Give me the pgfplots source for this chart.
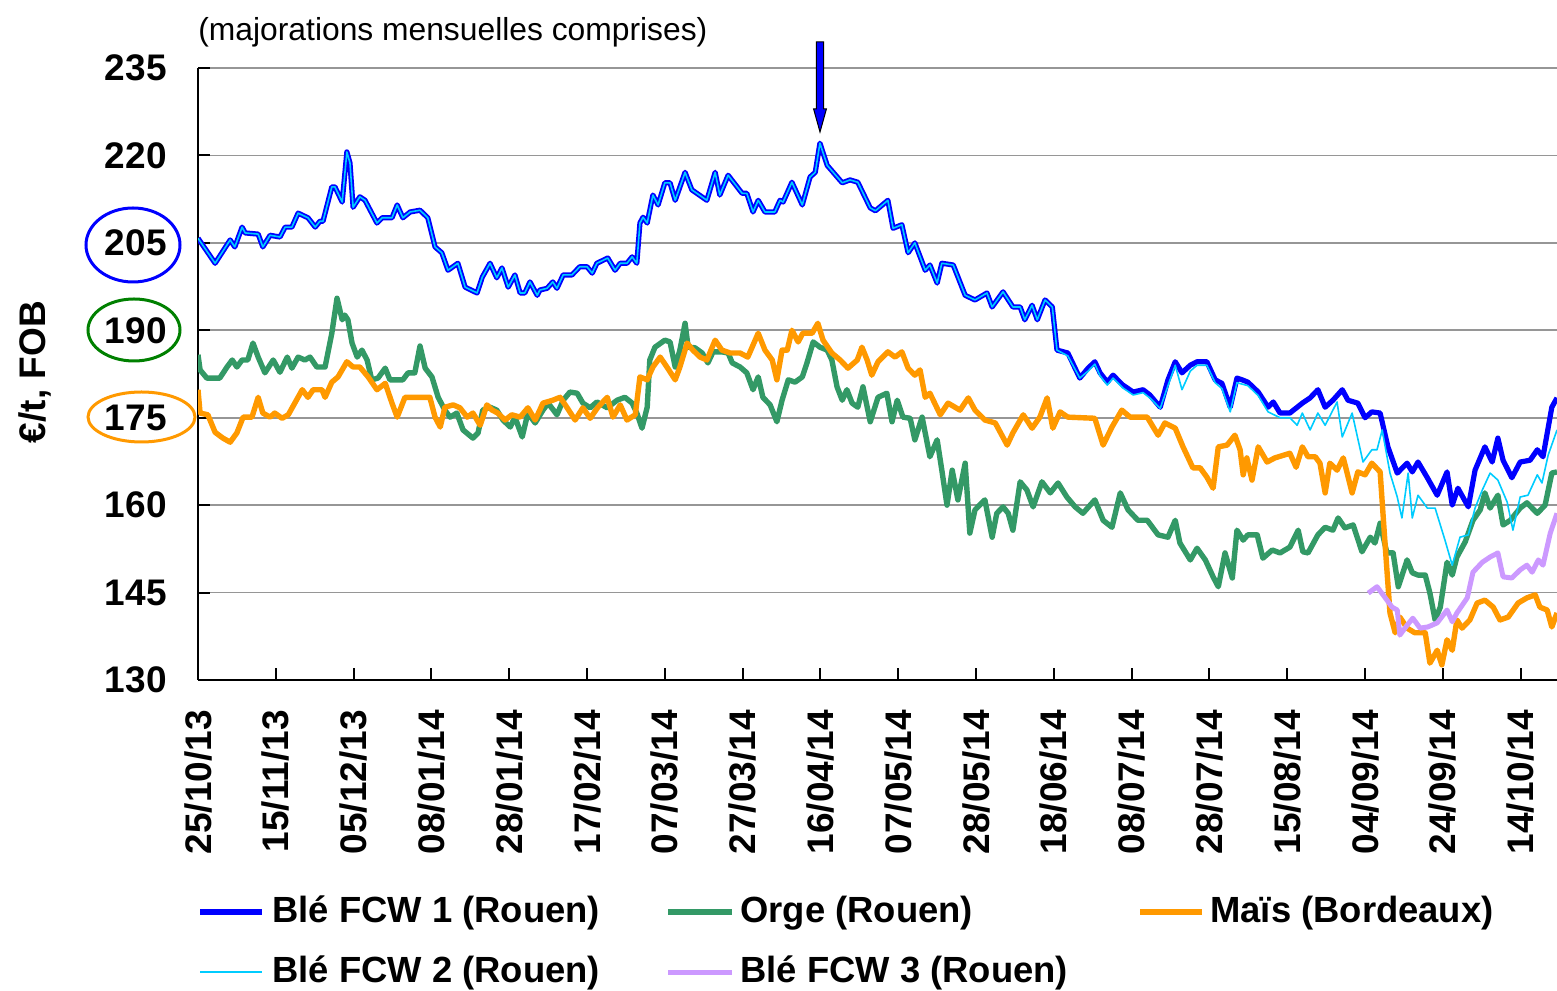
\documentclass[border=0pt]{standalone}
\usepackage{pgfplots}
\pgfplotsset{compat=1.18}
\usepackage{fontspec}
\setmainfont{Liberation Sans}
\definecolor{bleA}{RGB}{0,0,255}
\definecolor{bleB}{RGB}{0,204,255}
\definecolor{orge}{RGB}{51,153,102}
\definecolor{mais}{RGB}{255,153,0}
\definecolor{bleC}{RGB}{204,153,255}
\definecolor{grd}{RGB}{150,150,150}
\definecolor{ellg}{RGB}{0,128,0}
\newcommand{\bigbf}{\bfseries\fontsize{18.5pt}{22pt}\selectfont}
\newcommand{\legbf}{\bfseries\fontsize{18.2pt}{22pt}\selectfont}
\begin{document}
\begin{tikzpicture}
\path[use as bounding box] (0pt,0pt) rectangle (778.5pt,495pt);
\begin{axis}[
  at={(99pt,155pt)}, anchor=south west,
  scale only axis, width=679.5pt, height=306pt,
  xmin=0, xmax=262, ymin=130, ymax=235,
  axis x line*=bottom, axis y line*=left,
  axis line style={black, line width=1pt},
  xtick={0,15,...,255},
  xticklabels={25/10/13,15/11/13,05/12/13,08/01/14,28/01/14,17/02/14,07/03/14,27/03/14,16/04/14,07/05/14,28/05/14,18/06/14,08/07/14,28/07/14,15/08/14,04/09/14,24/09/14,14/10/14},
  ytick={130,145,...,235},
  tick align=inside, major tick length=6pt,
  tick style={black, line width=1pt},
  ymajorgrids, major grid style={grd, line width=0.9pt},
  /pgf/number format/assume math mode=true,
  yticklabel style={font=\bigbf, inner sep=0pt, xshift=-15.5pt},
  xticklabel style={font=\bigbf, inner sep=0pt, yshift=-15pt, rotate=90, anchor=east},
  ylabel={\bigbf €/t, FOB},
  ylabel style={at={(rel axis cs:-0.12,0.503)}, anchor=center},
]
% Ble FCW 1
\addplot[bleA, line width=2.6pt, line join=round] coordinates {
(0,205.8)(3.3,201.5)(6.2,205.5)(7.1,204.3)(8.5,207.7)(9.1,206.7)(11.6,206.5)(12.5,204.3)(13.9,206.3)(15.8,206)(16.8,207.7)(18.1,207.7)(19.3,210.1)(21.2,209.3)(22.6,207.7)(23.5,208.7)(24.1,208.7)(25.8,214.6)(26.4,214.6)(27.8,212)(28.7,220.6)(29.3,218.7)(29.9,211.1)(31.2,212.9)(32.2,212.3)(34.5,208.4)(35.5,209.3)(37.4,209.3)(38.4,211.5)(39.5,209.3)(40.9,210.3)(42.8,210.6)(44.3,209.3)(45.7,204.3)(47.0,203.3)(48.2,200.3)(50.1,201.5)(51.5,197.4)(53.8,196.4)(54.8,199.1)(56.3,201.5)(57.6,199)(58.6,200.7)(59.8,197.4)(61.1,199.5)(62.1,196.4)(63.0,196.4)(64.0,198.3)(65.4,196)(65.9,196.9)(67.3,197.2)(68.4,198.3)(69.2,197.2)(70.4,199.5)(72.1,199.5)(73.6,200.9)(75.0,200.9)(76.0,199.8)(76.9,201.5)(79.0,202.4)(80.4,200.3)(81.4,201.5)(82.7,201.5)(83.7,202.6)(84.6,201.5)(85.2,208.4)(85.8,209.4)(86.6,208.4)(87.7,213.2)(88.7,211.5)(90.0,215.3)(91.0,215.3)(92.0,212.3)(93.9,217.1)(95.2,214.1)(98.1,212.3)(99.7,217.1)(100.6,213.2)(102.2,216.6)(104.9,213.5)(105.8,213.5)(107.0,210.3)(108.0,212.3)(109.3,210.3)(111.2,210.3)(112.2,212.3)(112.8,212)(114.5,215.4)(116.5,211.5)(118.0,216.3)(119.0,217.1)(119.9,222.1)(121.3,218.3)(124.2,215.3)(125.7,215.8)(127.2,215.4)(129.6,211)(130.6,210.5)(133.0,212.3)(134.0,207.5)(135.7,208.1)(136.9,203.3)(138.2,205)(140.2,200.3)(141.1,201.2)(142.5,198.1)(143.4,201.5)(145.6,201.2)(147.9,196)(149.8,195.2)(152.1,196.4)(153.1,194)(155.2,196.6)(157.1,194)(158.5,194)(159.4,191.8)(160.8,194.3)(161.8,191.8)(163.3,195.2)(164.7,194)(165.6,186.6)(167.7,186.1)(170.0,181.8)(171.6,183.5)(172.9,184.6)(173.9,182.7)(175.3,181.1)(176.4,182.3)(178.3,180.6)(180.3,179.4)(182.2,179.8)(183.5,178.9)(185.5,176.8)(187.0,181.5)(188.4,184.6)(189.7,182.7)(191.3,184)(192.6,184.6)(194.5,184.6)(196.1,181.5)(197.4,180.9)(199.0,176.8)(200.3,181.8)(201.3,181.5)(202.4,181.1)(204.4,179.4)(206.3,176.8)(207.3,177.7)(208.6,175.8)(210.5,175.8)(212.9,177.5)(214.4,178.4)(215.9,179.8)(217.3,176.8)(218.8,178)(220.6,179.8)(221.7,178)(223.6,177.5)(225.0,175)(226.3,176)(227.9,175.8)(229.4,170)(231.2,165.5)(233.1,167.2)(234.1,165.7)(235.2,167.4)(237.0,164.7)(238.9,161.7)(240.8,165.7)(241.8,160)(242.9,162.9)(244.9,159.7)(246.2,166)(248.1,170)(249.5,167.4)(250.6,171.5)(251.6,167.7)(253.3,164.7)(254.9,167.4)(256.8,167.7)(258.2,169.5)(259.3,168.3)(261.0,176.8)(262.0,178.4)
};
% Orge
\addplot[orge, line width=2.7pt, line join=round] coordinates {
(0,185.8)(0.4,183.2)(1.7,181.8)(4.2,181.8)(5.6,183.7)(6.6,184.9)(7.5,183.7)(8.5,184.9)(9.6,184.9)(10.6,187.8)(11.6,185.4)(12.9,182.7)(14.5,184.9)(15.8,182.8)(17.2,185.4)(18.1,183.5)(19.3,185.4)(20.6,184.9)(21.6,185.4)(22.9,183.7)(24.5,183.7)(25.8,189.5)(26.8,195.5)(27.8,191.8)(28.3,192.6)(28.9,191.8)(29.7,187.8)(30.7,185.4)(31.6,186.6)(32.6,184.9)(33.5,181.5)(34.7,181.8)(36.1,183.5)(37.0,181.5)(39.5,181.5)(40.5,182.7)(41.8,182.7)(42.8,187.3)(43.8,183.5)(45.1,182)(46.3,178.5)(47.6,176.3)(48.6,175.1)(49.9,175.8)(51.1,172.9)(53.0,171.5)(54.0,172.4)(54.9,176.3)(56.3,176.8)(57.6,176.3)(58.8,174.6)(60.2,173.4)(61.1,175.1)(62.5,171.7)(63.6,175.8)(65.0,174.1)(66.5,176.3)(67.5,177.5)(69.2,175.5)(70.4,178)(71.7,179.4)(73.1,179.2)(74.2,177.5)(75.6,176.7)(76.9,177.7)(78.9,176.7)(80.8,178)(82.3,178.5)(83.7,177.5)(84.6,175.8)(85.6,173.2)(86.6,176.8)(87.1,184.9)(88.1,187.1)(90.0,188.3)(91.0,188)(92.0,183.7)(92.9,186.6)(93.9,191.2)(94.5,187.1)(95.8,187)(97.2,186.1)(98.3,184.4)(99.3,186.3)(101.0,186.3)(102.2,186.1)(103.0,184.4)(104.5,183.7)(105.8,182.7)(107.0,179.8)(108.0,182)(108.9,178.5)(110.3,177.2)(111.6,174.3)(112.6,178)(113.8,181.5)(115.1,181.1)(116.5,182)(117.4,184.4)(118.6,188)(119.9,187.1)(121.3,186.6)(122.2,184.9)(123.2,180.3)(124.2,178)(125.1,179.8)(126.1,177.5)(127.2,176.8)(128.2,180.3)(129.6,174.3)(131.1,178.5)(132.8,179.2)(133.8,174.3)(134.8,178)(135.9,175.1)(137.3,174.9)(138.2,171.2)(139.6,175.1)(141.1,168.3)(142.5,171.2)(143.4,166)(144.4,160)(145.4,166)(146.5,160.9)(147.9,167.2)(148.8,155.2)(149.8,159.2)(151.7,160.9)(153.1,154.5)(154.0,158.6)(155.2,159.7)(156.2,158.6)(157.1,155.7)(158.5,164)(159.8,162.6)(161.0,159.7)(162.7,164)(164.3,162.1)(165.8,163.8)(167.5,161.4)(169.1,159.7)(170.6,158.6)(172.9,160.9)(174.5,157.4)(176.2,156.2)(177.8,162.1)(179.3,159.2)(181.2,157.4)(183.0,157.4)(185.1,154.9)(187.0,154.5)(188.4,157.4)(189.3,153.5)(191.3,150.6)(192.6,152.6)(194.2,150.6)(195.7,147.7)(196.7,146)(198.0,151.8)(199.4,147.5)(200.3,155.7)(201.5,154)(202.4,154.9)(204.2,154.9)(205.3,150.9)(207.1,152.3)(208.6,151.8)(210.5,152.8)(212.1,155.7)(213.0,152)(214.0,151.8)(215.9,154.9)(217.3,156.2)(218.8,155.7)(219.8,157.8)(221.1,156.1)(222.7,156.6)(224.4,152)(226.0,154.5)(226.9,153.5)(227.9,156.9)(229.2,151.8)(230.4,151.8)(231.4,146)(233.1,150.6)(234.1,148.4)(235.2,148)(236.6,148)(237.5,144.9)(238.5,140.3)(239.5,142.5)(240.8,150.2)(241.8,148)(242.7,151.1)(244.3,153.7)(245.8,157.4)(247.2,159.2)(248.1,162.1)(249.1,159.5)(250.6,161.7)(251.6,156.6)(253.0,157.4)(254.9,159.5)(256.2,160.4)(258.2,158.6)(259.7,160)(261.0,165.5)(262.0,165.7)
};
% Mais
\addplot[mais, line width=2.7pt, line join=round] coordinates {
(0,179.8)(0.4,175.8)(1.9,175.5)(3.3,172.5)(4.8,171.5)(6.2,170.8)(7.5,172.4)(8.7,175.1)(10.4,175.1)(11.6,178.5)(12.5,175.8)(13.9,175.1)(14.8,175.8)(16.2,174.9)(17.4,175.5)(20.1,179.8)(21.2,178.5)(22.2,179.8)(23.9,179.8)(24.5,178.5)(25.8,181.1)(27.0,182)(28.7,184.6)(29.9,183.7)(31.2,183.7)(32.8,182)(34.5,179.8)(36.1,180.9)(37.4,177.5)(38.4,175.1)(39.9,178.5)(41.8,178.5)(44.7,178.5)(45.7,175.1)(46.7,173.4)(47.6,176.8)(49.2,177.2)(50.5,176.7)(51.9,175.1)(53.0,175.8)(54.4,173.7)(55.7,177.2)(56.7,176.3)(57.8,175.8)(59.2,174.6)(60.5,175.5)(62.1,175.1)(63.6,176.7)(65.0,174.6)(66.5,177.5)(68.4,178)(69.8,178.5)(71.1,176.8)(72.7,174.6)(74.2,176.7)(75.6,174.9)(77.1,176.8)(78.9,178.5)(80.0,175.1)(81.4,177.2)(82.7,174.6)(84.3,175.5)(85.2,182)(86.6,181.5)(87.7,183.7)(89.1,185.4)(90.4,183.7)(92.0,181.5)(92.9,183.7)(94.3,187.8)(95.4,186.6)(96.8,185.4)(98.1,184.9)(99.7,188.3)(101.0,186.6)(102.6,186.1)(104.5,186.1)(106.0,185.4)(108.0,189.5)(109.3,186.6)(110.7,184.9)(111.6,181.5)(112.6,186.6)(113.6,186.6)(114.5,190)(115.7,188)(116.6,189.5)(118.4,189.5)(119.5,191.2)(120.5,188.3)(122.2,186.1)(123.8,184.9)(125.3,183.5)(127.1,184.9)(128.0,187.1)(129.0,184.9)(129.9,182.3)(131.1,184.6)(133.0,186.3)(134.4,185.4)(135.7,186.3)(136.9,183.5)(138.2,182.3)(139.2,183.2)(140.2,178.5)(141.1,179.2)(143.1,175.5)(144.6,177.5)(146.9,176.3)(148.5,178.4)(149.8,176.3)(151.7,174.6)(153.7,174.1)(156.0,170.3)(157.1,172.4)(159.1,175.5)(160.8,173.2)(162.3,175.1)(163.7,178.4)(164.8,173.2)(166.2,176)(167.7,175.1)(172.9,174.9)(174.5,170.3)(176.2,173.4)(178.1,176.3)(179.7,175.1)(183.0,175.1)(185.1,172)(186.4,174.1)(188.4,173.2)(189.9,170)(191.8,166.4)(193.2,166.4)(194.5,164.8)(195.7,162.9)(196.7,170)(198.4,170.3)(199.9,172)(200.9,169.5)(201.5,165.2)(202.2,168.1)(203.2,164.3)(204.4,170)(206.1,167.4)(207.6,168.1)(210.5,168.9)(211.7,166.5)(212.9,170)(214.0,168.3)(215.4,168.3)(216.3,167.2)(217.3,162.1)(218.2,167.2)(219.6,166)(220.8,168.1)(222.5,162.1)(223.6,165.7)(225.0,165.2)(226.3,167.2)(227.9,165.7)(228.8,154)(229.8,141.5)(230.8,138.1)(231.7,140.8)(233.1,138.9)(234.6,138.1)(236.6,138.1)(237.5,132.9)(238.9,135.1)(239.8,132.6)(240.8,136.9)(241.8,135.1)(242.7,140.3)(243.7,138.9)(245.2,140.3)(246.6,143.2)(248.1,143.7)(249.7,142.5)(251.0,140.3)(252.6,140.8)(254.5,143.2)(256.2,144.1)(257.8,144.6)(258.7,142.5)(260.1,142)(261.0,139.1)(262.0,141.5)
};
% Ble FCW 2
\addplot[bleB, line width=0.8pt, line join=round] coordinates {
(0,205.8)(3.3,201.5)(6.2,205.5)(7.1,204.3)(8.5,207.7)(9.1,206.7)(11.6,206.5)(12.5,204.3)(13.9,206.3)(15.8,206)(16.8,207.7)(18.1,207.7)(19.3,210.1)(21.2,209.3)(22.6,207.7)(23.5,208.7)(24.1,208.7)(25.8,214.6)(26.4,214.6)(27.8,212)(28.7,220.6)(29.3,218.7)(29.9,211.1)(31.2,212.9)(32.2,212.3)(34.5,208.4)(35.5,209.3)(37.4,209.3)(38.4,211.5)(39.5,209.3)(40.9,210.3)(42.8,210.6)(44.3,209.3)(45.7,204.3)(47.0,203.3)(48.2,200.3)(50.1,201.5)(51.5,197.4)(53.8,196.4)(54.8,199.1)(56.3,201.5)(57.6,199)(58.6,200.7)(59.8,197.4)(61.1,199.5)(62.1,196.4)(63.0,196.4)(64.0,198.3)(65.4,196)(65.9,196.9)(67.3,197.2)(68.4,198.3)(69.2,197.2)(70.4,199.5)(72.1,199.5)(73.6,200.9)(75.0,200.9)(76.0,199.8)(76.9,201.5)(79.0,202.4)(80.4,200.3)(81.4,201.5)(82.7,201.5)(83.7,202.6)(84.6,201.5)(85.2,208.4)(85.8,209.4)(86.6,208.4)(87.7,213.2)(88.7,211.5)(90.0,215.3)(91.0,215.3)(92.0,212.3)(93.9,217.1)(95.2,214.1)(98.1,212.3)(99.7,217.1)(100.6,213.2)(102.2,216.6)(104.9,213.5)(105.8,213.5)(107.0,210.3)(108.0,212.3)(109.3,210.3)(111.2,210.3)(112.2,212.3)(112.8,212)(114.5,215.4)(116.5,211.5)(118.0,216.3)(119.0,217.1)(119.9,222.1)(121.3,218.3)(124.2,215.3)(125.7,215.8)(127.2,215.4)(129.6,211)(130.6,210.5)(133.0,212.3)(134.0,207.5)(135.7,208.1)(136.9,203.3)(138.2,205)(140.2,200.3)(141.1,201.2)(142.5,198.1)(143.4,201.5)(145.6,201.2)(147.9,196)(149.8,195.2)(152.1,196.4)(153.1,194)(155.2,196.6)(157.1,194)(158.5,194)(159.4,191.8)(160.8,194.3)(161.8,191.8)(163.3,195.2)(164.7,194)(165.6,186.6)(167.7,185.6)(170.0,181.8)(171.6,183)(172.9,184.2)(173.9,182.2)(175.3,180.6)(176.4,181.8)(178.3,180.1)(180.3,178.9)(182.2,179.3)(183.5,178.4)(185.5,176.6)(187.0,180.5)(188.4,184)(189.7,179.8)(191.3,183)(192.6,184)(194.5,184)(196.1,181)(197.4,180)(199.0,176)(200.3,181)(202.4,180.5)(204.4,178.8)(206.3,176)(208.6,175)(210.5,175)(211.9,173.7)(212.9,175.8)(214.4,172.9)(215.9,175.8)(217.3,173.7)(219.6,177.7)(220.6,171.7)(222.5,175.8)(224.6,167.4)(226.3,169.5)(227.3,169.5)(228.3,172.9)(229.8,165.5)(231.2,161.4)(232.1,157.8)(233.3,165.5)(234.1,157.8)(235.2,161.7)(237.0,159.5)(238.5,159.5)(240.4,154)(241.8,149.7)(243.3,154.5)(244.9,154.9)(246.2,159.5)(247.6,162.6)(249.1,165.5)(250.6,164.3)(252.4,160.5)(253.5,155.7)(254.9,161.4)(256.4,161.7)(258.2,165.2)(259.1,163.8)(260.3,168.6)(262.0,172.9)
};
% Ble FCW 3
\addplot[bleC, line width=2.5pt, line join=round] coordinates {
(225.6,144.9)(227.3,146)(228.8,144.2)(230.2,142.5)(231.2,142)(231.7,137.7)(233.1,139.4)(234.2,140.6)(235.6,138.9)(237.1,139.1)(238.9,139.8)(240.8,142)(241.8,140)(242.7,141.5)(244.7,144.1)(245.8,148.5)(247.6,150.2)(249.1,151.1)(250.6,151.8)(251.6,147.7)(253.3,147.5)(254.9,148.9)(256.2,149.7)(257.2,148.5)(258.4,150.6)(259.3,149.7)(260.7,155.2)(262.0,158.6)
};
\end{axis}
% title
\node[anchor=west, inner sep=0pt, font=\fontsize{15.9pt}{19pt}\selectfont] at (99pt,479pt) {(majorations mensuelles comprises)};
% arrow
\draw[black, line width=0.5pt, fill=bleA] (408.2pt,474pt) -- (411.8pt,474pt) -- (411.8pt,440.5pt) -- (413.2pt,440.5pt) -- (410pt,429pt) -- (406.8pt,440.5pt) -- (408.2pt,440.5pt) -- cycle;
% ellipses
\draw[bleA, line width=1.5pt] (66.5pt,372.5pt) ellipse [x radius=23.5pt, y radius=18.5pt];
\draw[ellg, line width=1.5pt] (67pt,330pt) ellipse [x radius=23pt, y radius=15.5pt];
\draw[mais, line width=1.5pt] (70.75pt,286.5pt) ellipse [x radius=26.75pt, y radius=12.5pt];
% legend
\draw[bleA, line width=2.6pt] (100pt,39pt) -- (131pt,39pt);
\node[anchor=west, inner sep=0pt, font=\legbf] at (136pt,38.5pt) {Blé FCW 1 (Rouen)};
\draw[orge, line width=2.7pt] (334pt,39pt) -- (366pt,39pt);
\node[anchor=west, inner sep=0pt, font=\legbf] at (370pt,38.5pt) {Orge (Rouen)};
\draw[mais, line width=2.7pt] (570pt,39pt) -- (601pt,39pt);
\node[anchor=west, inner sep=0pt, font=\legbf] at (605pt,38.5pt) {Maïs (Bordeaux)};
\draw[bleB, line width=0.8pt] (100pt,9pt) -- (131pt,9pt);
\node[anchor=west, inner sep=0pt, font=\legbf] at (136pt,8.5pt) {Blé FCW 2 (Rouen)};
\draw[bleC, line width=2.5pt] (334pt,9pt) -- (366pt,9pt);
\node[anchor=west, inner sep=0pt, font=\legbf] at (370pt,8.5pt) {Blé FCW 3 (Rouen)};
\end{tikzpicture}
\end{document}
